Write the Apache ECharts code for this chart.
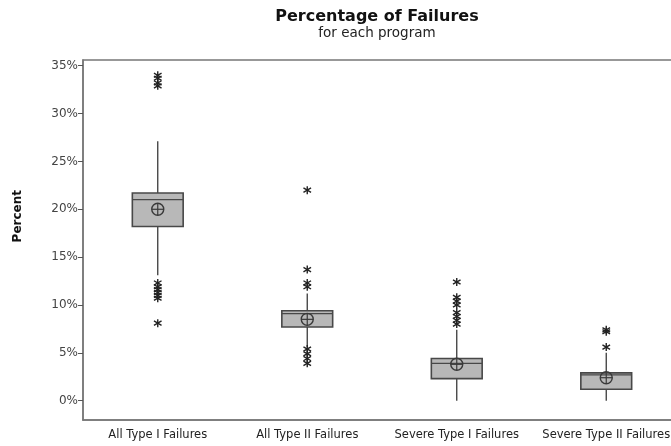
<!DOCTYPE html>
<html><head><meta charset="utf-8">
<script src="https://cdn.jsdelivr.net/npm/echarts@6/dist/echarts.min.js"></script>
<style>html,body{margin:0;padding:0;background:#fff}#c{width:671px;height:446px}</style>
</head><body><div id="c"></div>
<script>
var categories = ['All Type I Failures', 'All Type II Failures', 'Severe Type I Failures', 'Severe Type II Failures'];
var whiskerLow  = [13.1, 5.6, 0.0, 0.0];
var q1          = [18.2, 7.7, 2.3, 1.2];
var median      = [21.0, 9.1, 3.9, 2.7];
var q3          = [21.7, 9.4, 4.4, 2.9];
var whiskerHigh = [27.1, 11.2, 7.4, 5.0];
var means       = [20.0, 8.5, 3.8, 2.4];
var outliers1 = [34.0, 33.7, 33.2, 32.9, 12.3, 11.9, 11.6, 11.3, 11.0, 10.7, 8.1];
var outliers2 = [22.0, 13.7, 12.3, 11.9, 5.4, 4.9, 4.4, 3.9];
var outliers3 = [12.4, 10.8, 10.4, 10.0, 9.2, 8.8, 8.4, 8.0];
var outliers4 = [7.4, 7.2, 5.6];
var yTicks = [0, 5, 10, 15, 20, 25, 30, 35];

var outlierSets = [outliers1, outliers2, outliers3, outliers4];
var boxData = categories.map(function (c, i) {
  return [i, whiskerLow[i], q1[i], median[i], q3[i], whiskerHigh[i]];
});
var meanData = categories.map(function (c, i) { return [i, means[i]]; });
var outData = [];
outlierSets.forEach(function (arr, i) { arr.forEach(function (v) { outData.push([i, v]); }); });

var dark = '#3a3a3a';
function renderBox(params, api) {
  var x = api.value(0);
  var pLo = api.coord([x, api.value(1)]);
  var pQ1 = api.coord([x, api.value(2)]);
  var pMed = api.coord([x, api.value(3)]);
  var pQ3 = api.coord([x, api.value(4)]);
  var pHi = api.coord([x, api.value(5)]);
  var w = api.size([1, 0])[0] * 0.34;
  var cx = pQ1[0];
  return { type: 'group', children: [
    { type: 'line', shape: { x1: cx, y1: pHi[1], x2: cx, y2: pQ3[1] }, style: { stroke: dark, lineWidth: 1.3 } },
    { type: 'line', shape: { x1: cx, y1: pQ1[1], x2: cx, y2: pLo[1] }, style: { stroke: dark, lineWidth: 1.3 } },
    { type: 'rect', shape: { x: cx - w / 2, y: pQ3[1], width: w, height: pQ1[1] - pQ3[1] },
      style: { fill: '#b8b8b8', stroke: '#484848', lineWidth: 1.6 } },
    { type: 'line', shape: { x1: cx - w / 2, y1: pMed[1], x2: cx + w / 2, y2: pMed[1] }, style: { stroke: '#484848', lineWidth: 1.3 } }
  ]};
}
function renderMean(params, api) {
  var p = api.coord([api.value(0), api.value(1)]);
  var r = 6;
  return { type: 'group', children: [
    { type: 'circle', shape: { cx: p[0], cy: p[1], r: r }, style: { fill: 'none', stroke: dark, lineWidth: 1.4 } },
    { type: 'line', shape: { x1: p[0] - r, y1: p[1], x2: p[0] + r, y2: p[1] }, style: { stroke: dark, lineWidth: 1.2 } },
    { type: 'line', shape: { x1: p[0], y1: p[1] - r, x2: p[0], y2: p[1] + r }, style: { stroke: dark, lineWidth: 1.2 } }
  ]};
}
function renderStar(params, api) {
  var p = api.coord([api.value(0), api.value(1)]);
  var s = 4, dx = s * 0.95, dy = s * 0.55;
  var st = { stroke: '#222', lineWidth: 1.4 };
  return { type: 'group', children: [
    { type: 'line', shape: { x1: p[0], y1: p[1] - s, x2: p[0], y2: p[1] + s }, style: st },
    { type: 'line', shape: { x1: p[0] - dx, y1: p[1] - dy, x2: p[0] + dx, y2: p[1] + dy }, style: st },
    { type: 'line', shape: { x1: p[0] - dx, y1: p[1] + dy, x2: p[0] + dx, y2: p[1] - dy }, style: st }
  ]};
}

var chart = echarts.init(document.getElementById('c'), null, { renderer: 'canvas' });
chart.setOption({
  animation: false,
  backgroundColor: '#fff',
  title: {
    text: 'Percentage of Failures', subtext: 'for each program',
    left: 372, top: 4, textAlign: 'center', itemGap: 1,
    textStyle: { fontFamily: 'DejaVu Sans', fontWeight: 'bold', fontSize: 16, color: '#111' },
    subtextStyle: { fontFamily: 'DejaVu Sans', fontSize: 13.5, color: '#222' }
  },
  graphic: [{
    type: 'text', left: 12, top: 190, rotation: Math.PI / 2,
    style: { text: 'Percent', fontFamily: 'DejaVu Sans', fontWeight: 'bold', fontSize: 12, fill: '#111' }
  }],
  grid: { left: 83, width: 598, top: 60, bottom: 26, show: true, borderColor: '#777', borderWidth: 1.5,
    outerBoundsMode: 'none', containLabel: false },
  xAxis: {
    type: 'category', data: categories, boundaryGap: true,
    axisLine: { onZero: false, lineStyle: { color: '#777', width: 1.5 } },
    axisTick: { alignWithLabel: true, length: 4, lineStyle: { color: '#555' } },
    axisLabel: { fontFamily: 'DejaVu Sans', fontSize: 11.5, color: '#222', margin: 9, interval: 0 },
    splitLine: { show: false }
  },
  yAxis: {
    type: 'value', min: -2.02, max: 35.6,
    axisLine: { show: true, lineStyle: { color: '#777', width: 1.5 } },
    axisTick: { show: true, length: 5, customValues: yTicks, lineStyle: { color: '#555' } },
    axisLabel: { fontFamily: 'DejaVu Sans', fontSize: 12, color: '#444', margin: 5, customValues: yTicks,
      formatter: function (v) { return Math.round(v) + '%'; } },
    splitLine: { show: false }
  },
  series: [
    { type: 'custom', renderItem: renderBox, data: boxData, encode: { x: 0, y: [1, 2, 3, 4, 5] }, z: 2 },
    { type: 'custom', renderItem: renderMean, data: meanData, encode: { x: 0, y: 1 }, z: 3 },
    { type: 'custom', renderItem: renderStar, data: outData, encode: { x: 0, y: 1 }, z: 3 }
  ]
});
</script>
</body></html>
